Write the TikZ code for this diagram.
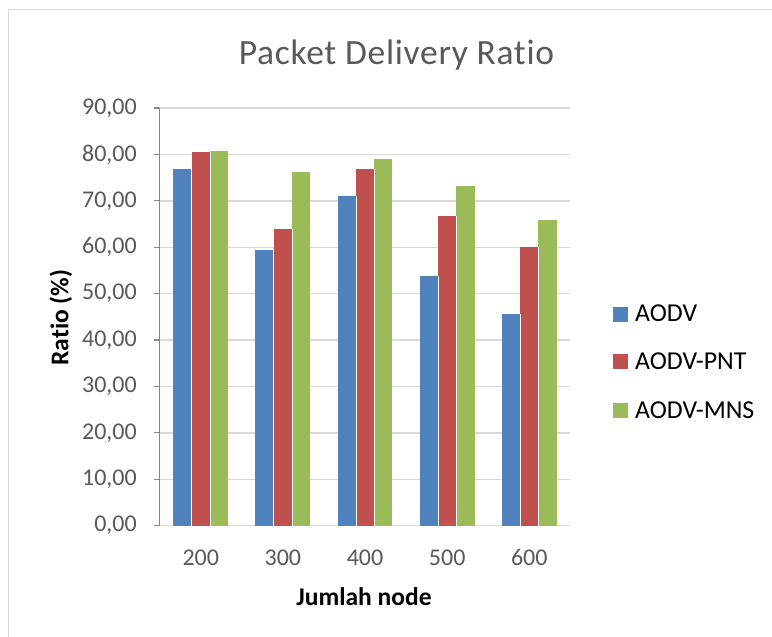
\documentclass[tikz,border=0pt]{standalone}
\usepackage{fontspec}
\setmainfont[Ligatures={NoCommon}]{Carlito}
\newfontfamily\titlefont[Ligatures={NoCommon},LetterSpace=2]{Carlito}
\definecolor{cblue}{HTML}{4F81BD}
\definecolor{cred}{HTML}{C0504D}
\definecolor{cgreen}{HTML}{9BBB59}
\definecolor{gridc}{HTML}{D9D9D9}
\definecolor{axisc}{HTML}{868686}
\definecolor{txtc}{HTML}{595959}
\tikzset{
  gridline/.style={draw=gridc, line width=1.4pt},
  axisline/.style={draw=axisc, line width=1.2pt},
  barbox/.style={draw=white, line width=0.5pt},
  ticklabel/.style={inner sep=0pt, text=txtc, font=\fontsize{24}{24}\selectfont},
  catlabel/.style={inner sep=0pt, text=txtc, font=\fontsize{24}{24}\selectfont, anchor=base},
  axistitle/.style={inner sep=0pt, text=black, font=\fontsize{25.5}{25.5}\selectfont\bfseries},
  legtext/.style={inner sep=0pt, text=black, font=\fontsize{25.8}{25.8}\selectfont, anchor=base west},
  legkey/.style={inner sep=0pt, minimum size=15pt, anchor=north west},
}
\begin{document}
\begin{tikzpicture}[x=1pt,y=-1pt]
\useasboundingbox (0,0) rectangle (772,637);
\fill[white] (0,0) rectangle (772,637);
% outer chart border
\draw[draw=gridc, line width=1.6pt] (8.5,637) -- (8.5,9.5) -- (772,9.5);
% title
\node[inner sep=0pt, anchor=base, text=txtc, font=\titlefont\fontsize{35.5}{35.5}\selectfont] (title) at (396.5,64.5) {Packet Delivery Ratio};
% gridlines and y tick labels
\foreach \v in {10,20,30,40,50,60,70,80,90} {
  \draw[gridline] (159.3,{525.7-4.641*\v}) -- (570,{525.7-4.641*\v});
}
\draw[gridline] (159.3,525.7) -- (570,525.7);
\foreach \v/\lab in {0/{0,00},10/{10,00},20/{20,00},30/{30,00},40/{40,00},50/{50,00},60/{60,00},70/{70,00},80/{80,00},90/{90,00}} {
  \draw[axisline] (154.3,{525.7-4.641*\v}) -- (159.3,{525.7-4.641*\v});
  \node[ticklabel, anchor=east] (yt\v) at (137,{525.7-4.641*\v}) {\lab};
}
% bars
\foreach \i/\a/\b/\c/\lab in {0/76.9/80.5/80.75/200, 1/59.5/64.0/76.3/300, 2/71.1/76.9/79.0/400, 3/53.8/66.8/73.3/500, 4/45.7/60.1/65.8/600} {
  \pgfmathsetmacro{\xo}{173.3+82.14*\i}
  \fill[cblue]  (\xo,525.7) rectangle ({\xo+18.3},{525.7-4.641*\a});
  \fill[cred]   ({\xo+18.3},525.7) rectangle ({\xo+36.6},{525.7-4.641*\b});
  \fill[cgreen] ({\xo+36.6},525.7) rectangle ({\xo+54.9},{525.7-4.641*\c});
  \draw[barbox] ({\xo+18.3},525.7) -- ({\xo+18.3},{525.7-4.641*min(\a,\b)});
  \draw[barbox] ({\xo+36.6},525.7) -- ({\xo+36.6},{525.7-4.641*min(\b,\c)});
  \node[catlabel] (cat\lab) at ({\xo+27.45},565) {\lab};
}
% y axis line
\draw[axisline] (159.3,108) -- (159.3,526.3);
% axis titles
\node[axistitle, anchor=base] (xtitle) at (364,605) {Jumlah node};
\node[axistitle, rotate=90, anchor=base] (ytitle) at (68.3,317.5) {Ratio (\%)};
% legend
\node[legkey, fill=cblue]  (k1) at (612.7,306.7) {};
\node[legkey, fill=cred]   (k2) at (612.7,354.2) {};
\node[legkey, fill=cgreen] (k3) at (612.7,403.0) {};
\node[legtext] (l1) at (635,321.7) {AODV};
\node[legtext] (l2) at (635,369.2) {AODV-PNT};
\node[legtext] (l3) at (635,418.0) {AODV-MNS};
\end{tikzpicture}
\end{document}
